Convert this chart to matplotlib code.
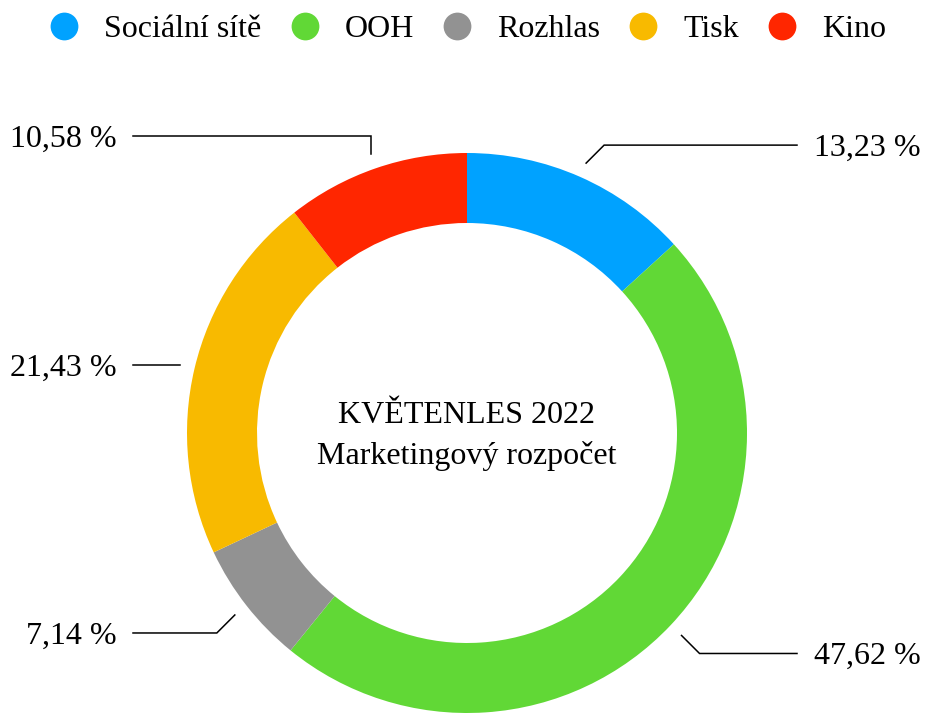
import numpy as np
import matplotlib
matplotlib.use('Agg')
import matplotlib.pyplot as plt
from matplotlib.lines import Line2D

# Data
CATEGORIES = ['Sociální sítě', 'OOH', 'Rozhlas', 'Tisk', 'Kino']
SHARES = [13.23, 47.62, 7.14, 21.43, 10.58]
COLORS = ['#00A2FF', '#61D836', '#929292', '#F8BA00', '#FF2600']
CENTER_TEXT = 'KVĚTENLES 2022\nMarketingový rozpočet'

plt.rcParams['font.family'] = ['Liberation Serif', 'DejaVu Serif']

W, H = 925, 713
FS = 23
fig = plt.figure(figsize=(W / 100, H / 100), dpi=100)
ax = fig.add_axes([0, 0, 1, 1])

cx, cy, r = 467, 280, 280
ax.pie(SHARES, colors=COLORS, center=(cx, cy), radius=r, startangle=90,
       counterclock=False, wedgeprops=dict(width=70, linewidth=0))
ax.set_xlim(0, W)
ax.set_ylim(0, H)
ax.set_aspect('equal')
ax.axis('off')

ax.text(cx, cy - 3, CENTER_TEXT, ha='center', va='center', fontsize=FS,
        linespacing=1.47)

# Leader lines and percentage labels
half_digit = 0.331 * FS * 100 / 72  # half of digit height in px
cum = 0
for share in SHARES:
    mid = (cum + share / 2) / 100 * 360
    cum += share
    theta = np.deg2rad(90 - mid)
    x1, y1 = cx + 295 * np.cos(theta), cy + 295 * np.sin(theta)
    # first segment snapped to nearest 45 degree direction
    snap = np.deg2rad(np.round(np.rad2deg(theta) / 45) * 45)
    x2 = x1 + 18 * np.round(np.cos(snap))
    y2 = y1 + 18 * np.round(np.sin(snap))
    right = np.cos(theta) > 0
    x3 = 797 if right else 133
    ax.plot([x1, x2, x3], [y1, y2, y2], color='black', lw=1.1,
            solid_joinstyle='miter')
    label = f'{share:.2f}'.replace('.', ',') + ' %'
    ax.text(814 if right else 117, y2 - half_digit, label,
            ha='left' if right else 'right', va='baseline', fontsize=FS)

# Legend
handles = [Line2D([], [], marker='o', linestyle='none', markersize=20,
                  markerfacecolor=c, markeredgecolor='none') for c in COLORS]
fig.legend(handles, CATEGORIES, loc='upper center', bbox_to_anchor=(0.505, 1.02),
           ncol=5, frameon=False, fontsize=FS, handletextpad=0.75,
           columnspacing=0.85, handlelength=1.0)

fig.savefig('out.png', dpi=100)
